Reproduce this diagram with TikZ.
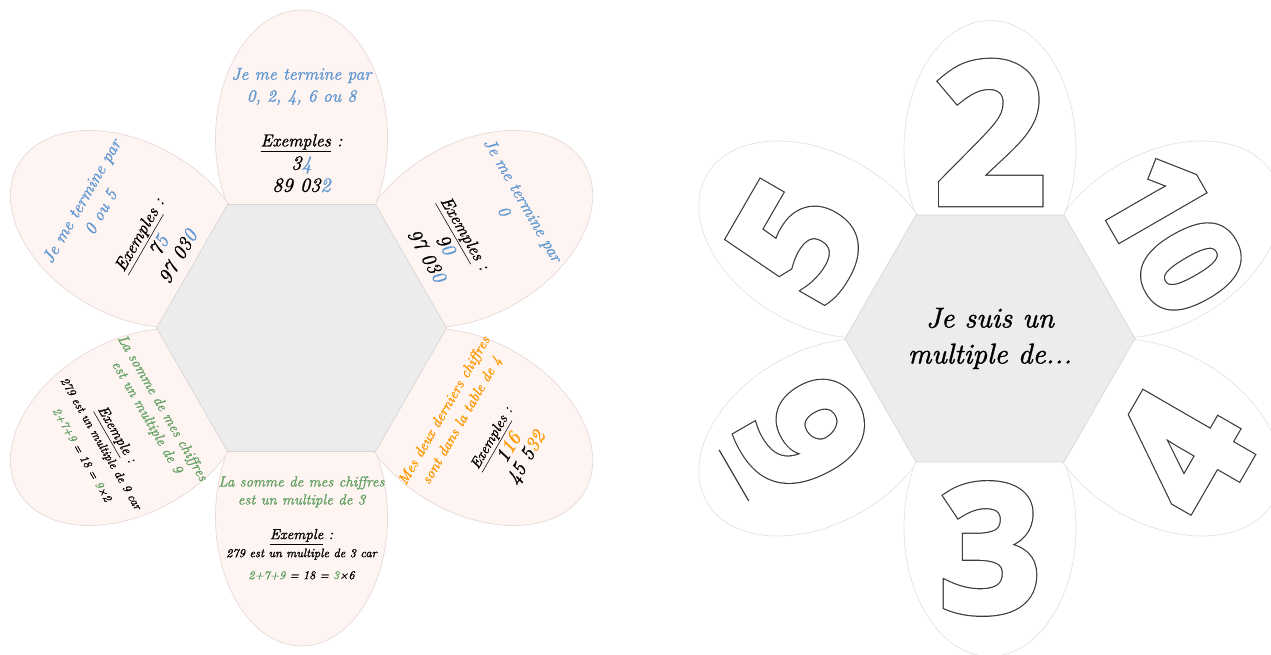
\documentclass[tikz,border=0pt]{standalone}
\usepackage{fontspec}
\newfontfamily\digitfont{Open Sans}
\newfontfamily\cursive[FakeBold=1.2]{lmroman10-italic.otf}
\definecolor{petalpink}{RGB}{254,244,242}
\definecolor{petalline}{RGB}{230,217,215}
\definecolor{hexfill}{RGB}{236,236,236}
\definecolor{hexline}{RGB}{214,214,214}
\definecolor{whiteline}{RGB}{226,226,226}
\definecolor{ruleblue}{RGB}{96,152,210}
\definecolor{rulegreen}{RGB}{98,160,98}
\definecolor{ruleorange}{RGB}{255,152,0}
\definecolor{digitline}{RGB}{60,60,60}
\newcommand\outlined[1]{\special{pdf:literal direct 1 Tr 0 j 3 M 5.8 w}\rlap{#1}%
  \special{pdf:literal direct 2 Tr 4 w}\textcolor{white}{#1}\special{pdf:literal direct 0 Tr 10 M 0.4 w}}
\newcommand\exs{\underline{Exemples}~:}
\newcommand\exone{\underline{Exemple}~:}
\newcommand\exnum{\fontsize{15}{15}\selectfont}
\newcommand\exsmall{\fontsize{9.2}{11}\selectfont}
\newcommand\exsum{\fontsize{9}{12}\selectfont}
\begin{document}
\begin{tikzpicture}[x=0.75pt, y=0.75pt,
    petal/.style={fill=petalpink, draw=petalline, line width=0.5pt},
    blank/.style={fill=white, draw=whiteline, line width=0.5pt},
    hexa/.style={fill=hexfill, draw=hexline, line width=0.5pt},
    rule/.style={align=center, inner sep=0pt},
    digit/.style={inner sep=0pt, text=digitline, font=\digitfont\bfseries\fontsize{#1}{#1}\selectfont}]
  \useasboundingbox (0,0) rectangle (1271,655);
  \coordinate (left) at (301.5,327);
  \coordinate (right) at (990,316.5);
  \foreach \a/\d in {30/198, 90/189, 150/198, 210/198, 270/189, 330/198} {
    \draw[petal, shift={(left)}, rotate=\a] (\d,0) ellipse [x radius=129, y radius=86];
    \draw[blank, shift={(right)}, rotate=\a] (\d,0) ellipse [x radius=129, y radius=86];
  }
  \foreach \c in {left, right}
    \draw[hexa, shift={(\c)}] (145,0) -- (74,123.5) -- (-74,123.5) -- (-145,0)
      -- (-74,-123.5) -- (74,-123.5) -- cycle;
  \begin{scope}[shift={(right)}]
    \node[digit=147] (two) at (90:206) {\outlined{2}};
    \node[digit=100, rotate=-60] (tenth) at (30:210) {\outlined{10}};
    \node[digit=125, rotate=60] (fifth) at (153:216) {\outlined{5}};
    \node[digit=123, rotate=-60] (ninth) at (207.4:209.5) {\outlined{9}};
    \node[digit=132] (third) at (270:210) {\outlined{3}};
    \node[digit=130, rotate=60] (fourth) at (-30.7:223) {\outlined{4}};
    \draw[digitline, line width=0.9pt] (-241.3,-162.4) -- (-270.9,-111.4);
    \node[rule, font=\cursive\fontsize{21.5}{27}\selectfont] (motto) at (0,0) {Je suis un\\multiple de...};
  \end{scope}
  \begin{scope}[shift={(left)}]
    \node[rule, font=\cursive\fontsize{13}{16.5}\selectfont] (even) at (90:198)
      {\textcolor{ruleblue}{Je me termine par}\\ \textcolor{ruleblue}{0, 2, 4, 6 ou 8}\\[17pt]
       \exs\\[1pt] {\exnum 3\textcolor{ruleblue}{4}}\\ {\exnum 89 03\textcolor{ruleblue}{2}}};
    \node[rule, rotate=60, font=\cursive\fontsize{13}{16.5}\selectfont] (five) at (150:198)
      {\textcolor{ruleblue}{Je me termine par}\\ \textcolor{ruleblue}{0 ou 5}\\[17pt]
       \exs\\[1pt] {\exnum 7\textcolor{ruleblue}{5}}\\ {\exnum 97 03\textcolor{ruleblue}{0}}};
    \node[rule, rotate=-60, font=\cursive\fontsize{13}{16.5}\selectfont] (ten) at (30:200)
      {\textcolor{ruleblue}{Je me termine par}\\ \textcolor{ruleblue}{0}\\[17pt]
       \exs\\[1pt] {\exnum 9\textcolor{ruleblue}{0}}\\ {\exnum 97 03\textcolor{ruleblue}{0}}};
    \node[rule, rotate=-60, font=\cursive\fontsize{11}{13.5}\selectfont] (nine) at (210:206)
      {\textcolor{rulegreen}{La somme de mes chiffres}\\ \textcolor{rulegreen}{est un multiple de 9}\\[12.5pt]
       \exone\\ {\exsmall 279 est un multiple de 9 car}\\[3pt]
       {\exsum\textcolor{rulegreen}{2+7+9} = 18 = \textcolor{rulegreen}{9}×2}};
    \node[rule, font=\cursive\fontsize{11}{13.5}\selectfont] (three) at (270:200)
      {\textcolor{rulegreen}{La somme de mes chiffres}\\ \textcolor{rulegreen}{est un multiple de 3}\\[12.5pt]
       \exone\\ {\exsmall 279 est un multiple de 3 car}\\[3pt]
       {\exsum\textcolor{rulegreen}{2+7+9} = 18 = \textcolor{rulegreen}{3}×6}};
    \node[rule, rotate=60, font=\cursive\fontsize{11}{15}\selectfont] (four) at (330:214)
      {\textcolor{ruleorange}{Mes deux derniers chiffres}\\ \textcolor{ruleorange}{sont dans la table de 4}\\[11pt]
       \exs\\[1pt] {\exnum 1\textcolor{ruleorange}{16}}\\ {\exnum 45 5\textcolor{ruleorange}{32}}};
  \end{scope}
\end{tikzpicture}
\end{document}
